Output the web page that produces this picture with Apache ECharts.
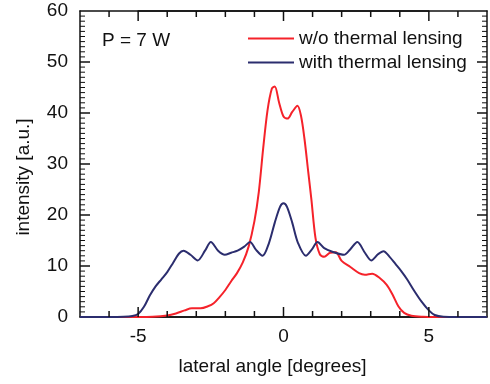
<!DOCTYPE html>
<html>
<head>
<meta charset="utf-8">
<script src="https://cdn.jsdelivr.net/npm/echarts@6/dist/echarts.min.js"></script>
<style>
  html, body { margin: 0; padding: 0; background: #fff; }
  #chart { width: 490px; height: 384px; }
</style>
</head>
<body>
<div id="chart"></div>
<script>
// lateral angle [deg] / intensity [a.u.]
const angleWithout = [-7, -5, -4.5, -4.0, -3.7, -3.4, -3.15, -2.85, -2.6, -2.4, -2.2, -2.0, -1.8, -1.6, -1.4, -1.2, -1.0, -0.85, -0.7, -0.55, -0.4, -0.3, -0.15, 0.0, 0.14, 0.3, 0.48, 0.6, 0.72, 0.85, 0.96, 1.1, 1.25, 1.4, 1.6, 1.8, 2.0, 2.3, 2.6, 2.8, 3.05, 3.3, 3.55, 3.75, 3.95, 4.15, 4.4, 4.8, 5.2, 7];
const intensityWithout = [0, 0, 0.05, 0.3, 0.7, 1.3, 1.7, 1.7, 2.1, 2.7, 3.9, 5.3, 7.0, 8.6, 10.7, 13.8, 18.8, 24.5, 33.0, 40.5, 44.8, 45.2, 42.0, 39.3, 38.9, 40.2, 41.4, 39.5, 35.0, 28.5, 23.0, 15.5, 12.3, 11.8, 12.6, 12.7, 11.0, 9.8, 8.6, 8.3, 8.5, 7.7, 6.3, 4.4, 2.1, 0.8, 0.25, 0.05, 0, 0];

const angleWith = [-7, -6, -5.5, -5.2, -5.0, -4.8, -4.6, -4.4, -4.2, -4.0, -3.8, -3.6, -3.44, -3.2, -2.95, -2.7, -2.5, -2.25, -2.02, -1.8, -1.58, -1.35, -1.15, -0.95, -0.72, -0.5, -0.3, -0.12, 0, 0.12, 0.3, 0.5, 0.77, 0.97, 1.17, 1.4, 1.68, 2.08, 2.3, 2.54, 2.8, 3.02, 3.25, 3.44, 3.65, 3.85, 4.05, 4.25, 4.5, 4.75, 5.0, 5.2, 5.5, 6, 7];
const intensityWith = [0, 0, 0.05, 0.2, 0.6, 2.0, 4.2, 6.0, 7.4, 8.8, 10.6, 12.4, 13.0, 12.2, 11.1, 13.0, 14.7, 13.0, 12.2, 12.6, 13.0, 13.8, 14.7, 13.2, 12.0, 14.5, 18.5, 21.6, 22.3, 21.6, 18.5, 14.5, 12.0, 13.2, 14.7, 13.5, 12.8, 12.2, 13.3, 14.7, 12.6, 11.1, 12.3, 12.9, 11.8, 10.4, 9.0, 7.4, 5.1, 3.0, 1.3, 0.4, 0.05, 0, 0];

const xRange = [-7, 7];
const xMajorRange = [-5, 5];   // labelled ticks -5, 0, 5
const xMajorTicks = [-5, 0, 5];
const yMajorTicks = [0, 10, 20, 30, 40, 50, 60];
const seriesNames = ['w/o thermal lensing', 'with thermal lensing'];

const font = 'Liberation Sans, Arial, sans-serif';
const black = '#111';
const hiddenSplit = { show: true, lineStyle: { opacity: 0 } };

function pairs(xs, ys) {
  return xs.map((x, i) => [x, ys[i]]);
}

// plot box in pixels
const box = { left: 80, right: 3, top: 11, bottom: 67 };
const plotW = 490 - box.left - box.right;
const span = xRange[1] - xRange[0];
// second grid covering exactly -5..5 so the labels can use interval 5
const inset = (xMajorRange[0] - xRange[0]) / span * plotW;
const insetR = (xRange[1] - xMajorRange[1]) / span * plotW;

const chart = echarts.init(document.getElementById('chart'));

function minorX(pos) {
  return {
    type: 'value', gridIndex: 0, position: pos, min: xRange[0], max: xRange[1], interval: 1,
    axisLine: { show: true, onZero: false, lineStyle: { color: black, width: 1.5 } },
    axisTick: { show: false },
    axisLabel: { show: false },
    splitLine: hiddenSplit
  };
}

function majorX(pos, withLabels) {
  return {
    type: 'value', gridIndex: 1, position: pos, min: xMajorRange[0], max: xMajorRange[1], interval: 5,
    name: withLabels ? 'lateral angle [degrees]' : '',
    nameLocation: 'middle', nameGap: 40,
    nameTextStyle: { fontFamily: font, fontSize: 19, color: black, padding: [0, 22, 0, 0] },
    axisLine: { show: true, onZero: false, lineStyle: { color: black, width: 1.5 } },
    axisTick: { show: false },
    axisLabel: { show: withLabels, margin: 10, fontFamily: font, fontSize: 19, color: black },
    splitLine: hiddenSplit
  };
}

function yAxis(gridIndex, pos, withLabels) {
  const shown = gridIndex === 0;
  return {
    type: 'value', gridIndex: gridIndex, position: pos, min: 0, max: 60, interval: 10,
    name: withLabels ? 'intensity [a.u.]' : '',
    nameLocation: 'middle', nameGap: 47, nameRotate: 90,
    nameTextStyle: { fontFamily: font, fontSize: 19, color: black, padding: [0, 26, 0, 0] },
    axisLine: { show: shown, onZero: false, lineStyle: { color: black, width: 1.5 } },
    axisTick: { show: false },
    axisLabel: { show: withLabels, margin: 12, fontFamily: font, fontSize: 19, color: black },
    splitLine: hiddenSplit
  };
}

const label = {
  type: 'text', left: 102, top: 31,
  style: { text: 'P = 7 W', fontFamily: font, fontSize: 19, fill: black }
};

const option = {
  backgroundColor: '#fff',
  animation: false,
  grid: [
    { left: box.left, right: box.right, top: box.top, bottom: box.bottom },
    { left: box.left + inset, right: box.right + insetR, top: box.top, bottom: box.bottom }
  ],
  xAxis: [minorX('bottom'), minorX('top'), majorX('bottom', true), majorX('top', false)],
  yAxis: [yAxis(0, 'left', true), yAxis(0, 'right', false), yAxis(1, 'left', false)],
  legend: {
    orient: 'vertical', left: 243, top: 24, itemGap: 5,
    icon: 'rect', itemWidth: 46, itemHeight: 2,
    textStyle: { fontFamily: font, fontSize: 19, color: black },
    data: seriesNames
  },
  graphic: { elements: [label] },
  series: [
    {
      name: seriesNames[0], type: 'line', smooth: 0.3, symbol: 'none',
      xAxisIndex: 0, yAxisIndex: 0,
      lineStyle: { color: '#f5222a', width: 2 }, itemStyle: { color: '#f5222a' },
      data: pairs(angleWithout, intensityWithout)
    },
    {
      name: seriesNames[1], type: 'line', smooth: 0.3, symbol: 'none',
      xAxisIndex: 0, yAxisIndex: 0,
      lineStyle: { color: '#2b2d6e', width: 2 }, itemStyle: { color: '#2b2d6e' },
      data: pairs(angleWith, intensityWith)
    }
  ]
};

chart.setOption(option);

// inward ticks on all four sides, placed through the axes' own scales
function tickLine(x1, y1, x2, y2, w) {
  return { type: 'line', silent: true, z: 10,
    shape: { x1: x1, y1: y1, x2: x2, y2: y2 },
    style: { stroke: black, lineWidth: w } };
}

const xPx = (v) => chart.convertToPixel({ xAxisIndex: 0 }, v);
const yPx = (v) => chart.convertToPixel({ yAxisIndex: 0 }, v);
const yBottom = yPx(0);
const yTop = yPx(60);
const xLeft = xPx(xRange[0]);
const xRight = xPx(xRange[1]);

const ticks = [];
for (let v = xRange[0] + 1; v < xRange[1]; v++) {
  const len = xMajorTicks.includes(v) ? 10 : 6;
  const px = xPx(v);
  ticks.push(tickLine(px, yBottom, px, yBottom - len, 1.5));
  ticks.push(tickLine(px, yTop, px, yTop + len, 1.5));
}
for (let v = 1; v < 60; v++) {
  const major = yMajorTicks.includes(v);
  const len = major ? 10 : 5;
  const py = yPx(v);
  ticks.push(tickLine(xLeft, py, xLeft + len, py, major ? 1.5 : 1));
  ticks.push(tickLine(xRight, py, xRight - len, py, major ? 1.5 : 1));
}

chart.setOption({ graphic: { elements: [label].concat(ticks) } });
</script>
</body>
</html>
